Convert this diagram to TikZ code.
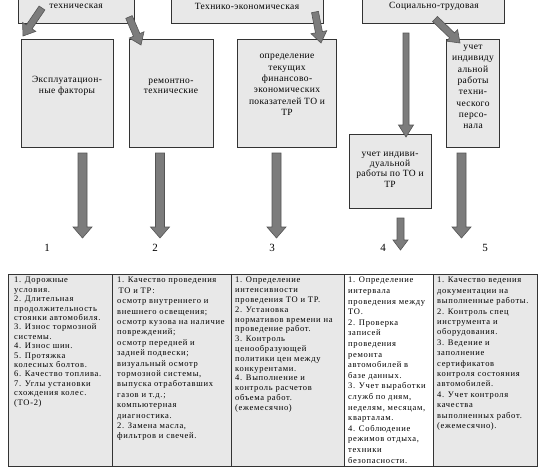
\documentclass[tikz,border=0pt]{standalone}
\usepackage{fontspec}
\setmainfont{Liberation Serif}
\newfontfamily\spf{Liberation Serif}[LetterSpace=4]
\newfontfamily\spg{Liberation Serif}[LetterSpace=8]
\usetikzlibrary{calc}
\definecolor{boxgray}{HTML}{E8E8E8}
\definecolor{arrfill}{HTML}{7C7C7C}
\definecolor{arrline}{HTML}{555555}
\definecolor{edge}{HTML}{333333}
\tikzset{
  box/.style={draw=edge, fill=boxgray, line width=0.8pt, inner sep=0pt, anchor=north west},
  cellbox/.style={draw=edge, line width=1pt, inner sep=0pt, anchor=north west, minimum height=192pt},
  boxtext/.style={align=center, inner sep=0pt, font=\spf\fontsize{9.5}{10.3}\selectfont},
  boxtextwide/.style={align=center, inner sep=0pt, font=\spf\fontsize{9.5}{11.3}\selectfont},
  celltext/.style={align=left, inner sep=0pt, anchor=north west, font=\spg\fontsize{8.5}{#1}\selectfont},
  numtext/.style={inner sep=0pt, font=\fontsize{11}{12}\selectfont},
  arrowpoly/.style={fill=arrfill, draw=arrline, line width=0.6pt, line join=miter}
}
\newcommand{\blockarr}[5]{%
  \coordinate (tmpC) at ($(#2)!#5!(#1)$);
  \path[arrowpoly] ($(#1)!#3!90:(#2)$) -- ($(tmpC)!#3!90:(#2)$) -- ($(tmpC)!#4!90:(#2)$)
     -- (#2) -- ($(tmpC)!#4!-90:(#2)$) -- ($(tmpC)!#3!-90:(#2)$) -- ($(#1)!#3!-90:(#2)$) -- cycle;
}
\begin{document}
\begin{tikzpicture}[x=1pt,y=-1pt]
\useasboundingbox (0,0) rectangle (547,472);
\clip (0,0) rectangle (547,472);
\fill[white] (0,0) rectangle (547,472);

% top boxes
\node[box, minimum width=116pt, minimum height=33pt] (tech) at (18,-10) {};
\node[boxtext] (techT) at (76,6) {техническая};
\node[box, minimum width=152pt, minimum height=33pt] (tekon) at (171,-10) {};
\node[boxtext] (tekonT) at (247,6) {Технико-экономическая};
\node[box, minimum width=142pt, minimum height=33pt] (soc) at (362,-10) {};
\node[boxtext] (socT) at (434,6) {Социально-трудовая};

% second row boxes
\node[box, minimum width=92pt, minimum height=108pt] (b1) at (21,39) {};
\node[boxtext] (b1T) at (67,86) {Эксплуатацион-\\ные факторы};
\node[box, minimum width=84pt, minimum height=108pt] (b2) at (129,39) {};
\node[boxtext] (b2T) at (171,86) {ремонтно-\\технические};
\node[box, minimum width=99pt, minimum height=108pt] (b3) at (237,39) {};
\node[boxtextwide] (b3T) at (287,85) {определение\\текущих\\финансово-\\экономических\\показателей ТО и\\ТР};
\node[box, minimum width=53pt, minimum height=108pt] (b5) at (446,39) {};
\node[boxtextwide] (b5T) at (473,87) {учет\\индивиду\\альной\\работы\\техни-\\ческого\\персо-\\нала};
\node[box, minimum width=82pt, minimum height=74pt] (b4) at (349,134) {};
\node[boxtext] (b4T) at (390,169.5) {учет индиви-\\дуальной\\работы по ТО и\\ТР};

% arrow coordinates
\coordinate (d1s) at (42,8);   \coordinate (d1e) at (23,36);
\coordinate (d2s) at (129,17); \coordinate (d2e) at (141,45);
\coordinate (d3s) at (315,12); \coordinate (d3e) at (321,43);
\coordinate (d5s) at (435,19); \coordinate (d5e) at (460,43);
\coordinate (v4s) at (406,33); \coordinate (v4e) at (406,137);
\coordinate (a1s) at (82.5,153); \coordinate (a1e) at (82.5,238);
\coordinate (a2s) at (160,153);  \coordinate (a2e) at (160,238);
\coordinate (a3s) at (276.5,153);\coordinate (a3e) at (276.5,238);
\coordinate (a5s) at (461.5,153);\coordinate (a5e) at (461.5,238);
\coordinate (a4s) at (400.5,218);\coordinate (a4e) at (400.5,250);

\blockarr{d1s}{d1e}{3.5pt}{8pt}{11pt}
\blockarr{d2s}{d2e}{3.5pt}{8pt}{11pt}
\blockarr{d3s}{d3e}{3.5pt}{8pt}{11pt}
\blockarr{d5s}{d5e}{3.5pt}{8pt}{11pt}
\blockarr{v4s}{v4e}{3pt}{7.5pt}{12pt}
\blockarr{a1s}{a1e}{4.5pt}{9.5pt}{11pt}
\blockarr{a2s}{a2e}{4.5pt}{9.5pt}{11pt}
\blockarr{a3s}{a3e}{4.5pt}{9.5pt}{11pt}
\blockarr{a5s}{a5e}{4.5pt}{9.5pt}{11pt}
\blockarr{a4s}{a4e}{3.5pt}{7.5pt}{10pt}

% numbers
\node[numtext] (n1) at (47,248) {1};
\node[numtext] (n2) at (155,248) {2};
\node[numtext] (n3) at (272,248) {3};
\node[numtext] (n4) at (383,248) {4};
\node[numtext] (n5) at (485,248) {5};

% table cells
\node[cellbox, fill=boxgray, minimum width=104pt] (c1) at (8,274) {};
\node[cellbox, fill=boxgray, minimum width=119pt] (c2) at (112,274) {};
\node[cellbox, fill=boxgray, minimum width=113pt] (c3) at (231,274) {};
\node[cellbox, fill=white, minimum width=89pt] (c4) at (344,274) {};
\node[cellbox, fill=boxgray, minimum width=104pt] (c5) at (433,274) {};

\node[celltext=9.4] (c1T) at (14,277) {1. Дорожные\\условия.\\2. Длительная\\продолжительность\\стоянки автомобиля.\\3. Износ тормозной\\системы.\\4. Износ шин.\\5. Протяжка\\колесных болтов.\\6. Качество топлива.\\7. Углы установки\\схождения колес.\\(ТО-2)};
\node[celltext=10.4] (c2T) at (117,277) {1. Качество проведения\\\hspace{1.5pt}ТО и ТР:\\осмотр внутреннего и\\внешнего освещения;\\осмотр кузова на наличие\\повреждений;\\осмотр передней и\\задней подвески;\\визуальный осмотр\\тормозной системы,\\выпуска отработавших\\газов и т.д.;\\компьютерная\\диагностика.\\2. Замена масла,\\фильтров и свечей.};
\node[celltext=9.8] (c3T) at (235,277) {1. Определение\\интенсивности\\проведения ТО и ТР.\\2. Установка\\нормативов времени на\\проведение работ.\\3. Контроль\\ценообразующей\\политики цен между\\конкурентами.\\4. Выполнение и\\контроль расчетов\\объема работ.\\(ежемесячно)};
\node[celltext=10.6] (c4T) at (348,277) {1. Определение\\интервала\\проведения между\\ТО.\\2. Проверка\\записей\\проведения\\ремонта\\автомобилей в\\базе данных.\\3. Учет выработки\\служб по дням,\\неделям, месяцам,\\кварталам.\\4. Соблюдение\\режимов отдыха,\\техники\\безопасности.};
\node[celltext=10.4] (c5T) at (437,277) {1. Качество ведения\\документации на\\выполненные работы.\\2. Контроль спец\\инструмента и\\оборудования.\\3. Ведение и\\заполнение\\сертификатов\\контроля состояния\\автомобилей.\\4. Учет контроля\\качества\\выполненных работ.\\(ежемесячно).};
\end{tikzpicture}
\end{document}
